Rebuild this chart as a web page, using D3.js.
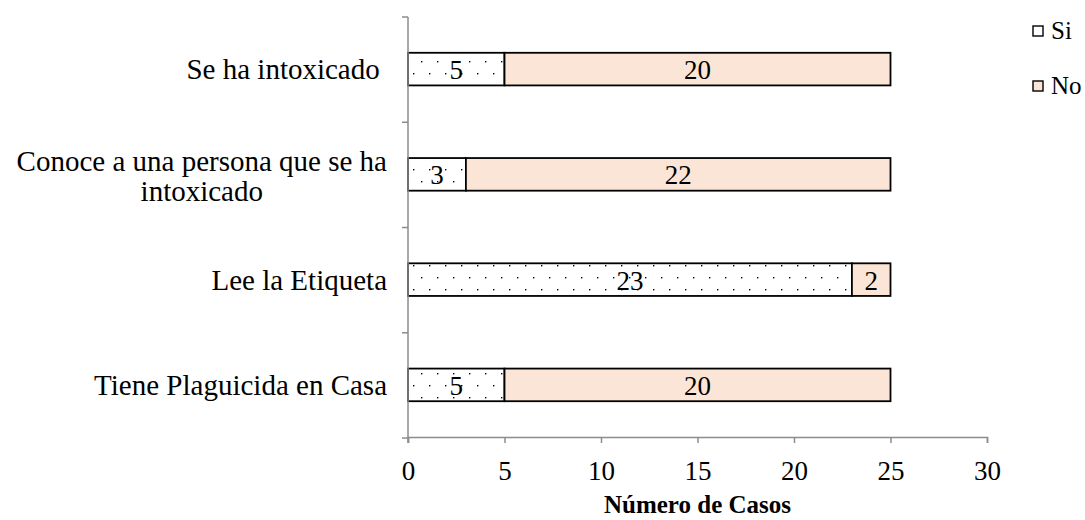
<!DOCTYPE html>
<html>
<head>
<meta charset="utf-8">
<script src="https://cdn.jsdelivr.net/npm/d3@7"></script>
<style>
  html, body { margin: 0; padding: 0; background: #fff; }
  svg { display: block; }
  text { font-family: "Liberation Serif", "Times New Roman", serif; fill: #000; }
</style>
</head>
<body>
<svg id="chart" width="1085" height="520"></svg>
<script>
// Categories, top to bottom, each as lines of text
const categories = [
  ["Se ha intoxicado "],
  ["Conoce a una persona que se ha", "intoxicado"],
  ["Lee la Etiqueta"],
  ["Tiene Plaguicida en Casa"]
];
const seriesNames = ["Si", "No"];
const siValues = [5, 3, 23, 5];
const noValues = [20, 22, 2, 20];
const xTicks = [0, 5, 10, 15, 20, 25, 30];
const xTitle = "Número de Casos";

const svg = d3.select("#chart");
const axisColor = "#8c8c8c";
const noFill = "#fbe5d6";

// dotted fill for the "Si" segments
const defs = svg.append("defs");
const pat = defs.append("pattern")
  .attr("id", "dots").attr("patternUnits", "userSpaceOnUse")
  .attr("x", 410).attr("y", 264)
  .attr("width", 16).attr("height", 24);
pat.append("rect").attr("width", 16).attr("height", 24).attr("fill", "#fff");
pat.append("rect").attr("x", 3).attr("y", 1).attr("width", 1.4).attr("height", 1.4).attr("fill", "#000");
pat.append("rect").attr("x", 11).attr("y", 13).attr("width", 1.4).attr("height", 1.4).attr("fill", "#000");

const x = d3.scaleLinear().domain([0, 30]).range([408, 987]);
const y = d3.scaleBand().domain(d3.range(categories.length)).range([17, 437]).paddingInner(0.69).paddingOuter(0.34);

const rows = categories.map((c, i) => ({ i, lines: c, si: siValues[i], no: noValues[i] }));

// Bars
const g = svg.append("g");
g.selectAll("rect.si").data(rows).join("rect")
  .attr("class", "si")
  .attr("x", d => x(0)).attr("y", d => y(d.i))
  .attr("width", d => x(d.si) - x(0)).attr("height", y.bandwidth())
  .attr("fill", "url(#dots)").attr("stroke", "#000").attr("stroke-width", 1.8);
g.selectAll("rect.no").data(rows).join("rect")
  .attr("class", "no")
  .attr("x", d => x(d.si)).attr("y", d => y(d.i))
  .attr("width", d => x(d.si + d.no) - x(d.si)).attr("height", y.bandwidth())
  .attr("fill", noFill).attr("stroke", "#000").attr("stroke-width", 1.8);

// Value labels
g.selectAll("text.vsi").data(rows).join("text")
  .attr("x", d => (x(0) + x(d.si)) / 2).attr("y", d => y(d.i) + y.bandwidth() / 2 + 10)
  .attr("text-anchor", "middle").attr("font-size", 27).text(d => d.si);
g.selectAll("text.vno").data(rows).join("text")
  .attr("x", d => (x(d.si) + x(d.si + d.no)) / 2).attr("y", d => y(d.i) + y.bandwidth() / 2 + 10)
  .attr("text-anchor", "middle").attr("font-size", 27).text(d => d.no);

// Y axis line and category ticks
const step = y.step();
const yTickPos = d3.range(categories.length + 1).map(k => 17 + k * step);
svg.append("line").attr("x1", 408).attr("x2", 408).attr("y1", 17).attr("y2", 443)
  .attr("stroke", axisColor).attr("stroke-width", 1.5);
svg.selectAll("line.yt").data(yTickPos).join("line")
  .attr("x1", 402).attr("x2", 408).attr("y1", d => d).attr("y2", d => d)
  .attr("stroke", axisColor).attr("stroke-width", 1.5);

// X axis
const xAxis = d3.axisBottom(x).tickValues(xTicks).tickSize(6).tickFormat(d3.format("d"));
const xg = svg.append("g").attr("transform", "translate(0,437)").call(xAxis);
xg.select(".domain").attr("stroke", axisColor).attr("stroke-width", 1.5);
xg.selectAll(".tick line").attr("stroke", axisColor).attr("stroke-width", 1.5);
xg.selectAll(".tick text").attr("font-size", 27).attr("font-family", "Liberation Serif, serif")
  .attr("fill", "#000").attr("dy", 0).attr("y", 43);

// Axis title
svg.append("text").attr("x", x(15)).attr("y", 513).attr("text-anchor", "middle")
  .attr("font-size", 25).attr("font-weight", "bold").text(xTitle);

// Category labels (multi-line blocks centered on each other, right-aligned)
rows.forEach(d => {
  const cy = y(d.i) + y.bandwidth() / 2;
  const lh = 30;
  const t = svg.append("text").attr("font-size", 29).attr("xml:space", "preserve")
    .style("white-space", "pre");
  const n = d.lines.length;
  if (n === 1) {
    t.attr("text-anchor", "end").attr("x", 387).attr("y", cy + 10).text(d.lines[0]);
  } else {
    t.attr("text-anchor", "middle");
    d.lines.forEach((ln, k) => {
      t.append("tspan").attr("y", cy + 12 + (k - (n - 1) / 2) * lh).text(ln);
    });
    const widths = [];
    t.selectAll("tspan").each(function () { widths.push(this.getComputedTextLength()); });
    const cx = 387 - d3.max(widths) / 2;
    t.selectAll("tspan").attr("x", cx);
  }
});

// Legend
const legend = svg.append("g");
const legY = [31, 86];
seriesNames.forEach((s, k) => {
  legend.append("rect").attr("x", 1033).attr("y", legY[k] - 5).attr("width", 10).attr("height", 10)
    .attr("fill", k === 0 ? "#fff" : noFill).attr("stroke", "#000").attr("stroke-width", 1.4);
  legend.append("text").attr("x", 1051).attr("y", legY[k] + 8).attr("font-size", 25).text(s);
});
</script>
</body>
</html>
